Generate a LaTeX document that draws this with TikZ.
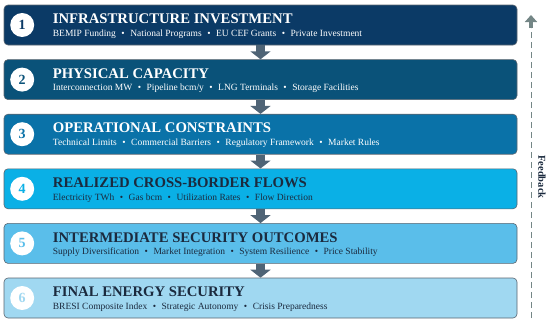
\documentclass[tikz,border=0pt]{standalone}
\usepackage{fontspec}
\setmainfont{Liberation Serif}
\usepackage{xcolor}
\usetikzlibrary{arrows.meta,positioning,calc}
\definecolor{tierA}{HTML}{0B3A66}
\definecolor{tierB}{HTML}{0A5279}
\definecolor{tierC}{HTML}{0A72A8}
\definecolor{tierD}{HTML}{0AB0E6}
\definecolor{tierE}{HTML}{5ABEEA}
\definecolor{tierF}{HTML}{A0D8F1}
\definecolor{ink}{HTML}{1B2A3E}
\definecolor{flowgray}{HTML}{4F6476}
\definecolor{fbgray}{HTML}{748686}
\definecolor{edge}{HTML}{5A6570}
\newcommand{\dotsep}{\hspace{5.5pt}\textbullet\hspace{5.5pt}}

\begin{document}
\begin{tikzpicture}[x=1pt,y=-1pt]
    \tikzset{
      tier/.style={rounded corners=4pt,draw=edge,line width=0.6pt,minimum width=513pt,minimum height=40pt,inner sep=0pt},
      badge/.style={circle,fill=white,minimum size=24pt,inner sep=0pt,font=\fontsize{14}{14}\selectfont\bfseries},
      head/.style={anchor=base west,inner sep=0pt,font=\fontsize{14.7}{15}\selectfont\bfseries},
      items/.style={anchor=base west,inner sep=0pt,font=\fontsize{9.5}{10}\selectfont},
      flow/.style={-{Triangle[width=20pt,length=8pt]},draw=flowgray,line width=9pt},
      fbline/.style={draw=fbgray,line width=0.8pt,dash pattern=on 6pt off 4pt},
      fbhead/.style={-{Triangle[width=12pt,length=7pt]},draw=fbgray,line width=4pt},
      fbtext/.style={rotate=-90,font=\fontsize{10.5}{11}\selectfont\bfseries,text=ink}
    }
    \useasboundingbox (0,0) rectangle (550,324);
    \node[tier,fill=tierA] (b1) at (260.5,25) {};
    \node[tier,fill=tierB] (b2) at (260.5,79.6) {};
    \node[tier,fill=tierC] (b3) at (260.5,134.2) {};
    \node[tier,fill=tierD] (b4) at (260.5,188.8) {};
    \node[tier,fill=tierE] (b5) at (260.5,243.4) {};
    \node[tier,fill=tierF] (b6) at (260.5,298) {};
    \node[badge,text=tierA] (n1) at ([xshift=18.5pt]b1.west) {1};
    \node[badge,text=tierB] (n2) at ([xshift=18.5pt]b2.west) {2};
    \node[badge,text=tierC] (n3) at ([xshift=18.5pt]b3.west) {3};
    \node[badge,text=tierD] (n4) at ([xshift=18.5pt]b4.west) {4};
    \node[badge,text=tierE] (n5) at ([xshift=18.5pt]b5.west) {5};
    \node[badge,text=tierF] (n6) at ([xshift=18.5pt]b6.west) {6};
    \node[head,text=white] (t1) at ([xshift=49pt,yshift=-19pt]b1.north west) {INFRASTRUCTURE INVESTMENT};
    \node[items,text=white] (s1) at ([xshift=49pt,yshift=-31.5pt]b1.north west) {BEMIP Funding\dotsep National Programs\dotsep EU CEF Grants\dotsep Private Investment};
    \node[head,text=white] (t2) at ([xshift=49pt,yshift=-19pt]b2.north west) {PHYSICAL CAPACITY};
    \node[items,text=white] (s2) at ([xshift=49pt,yshift=-31.5pt]b2.north west) {Interconnection MW\dotsep Pipeline bcm/y\dotsep LNG Terminals\dotsep Storage Facilities};
    \node[head,text=white] (t3) at ([xshift=49pt,yshift=-19pt]b3.north west) {OPERATIONAL CONSTRAINTS};
    \node[items,text=white] (s3) at ([xshift=49pt,yshift=-31.5pt]b3.north west) {Technical Limits\dotsep Commercial Barriers\dotsep Regulatory Framework\dotsep Market Rules};
    \node[head,text=ink] (t4) at ([xshift=49pt,yshift=-19pt]b4.north west) {REALIZED CROSS-BORDER FLOWS};
    \node[items,text=ink] (s4) at ([xshift=49pt,yshift=-31.5pt]b4.north west) {Electricity TWh\dotsep Gas bcm\dotsep Utilization Rates\dotsep Flow Direction};
    \node[head,text=ink] (t5) at ([xshift=49pt,yshift=-19pt]b5.north west) {INTERMEDIATE SECURITY OUTCOMES};
    \node[items,text=ink] (s5) at ([xshift=49pt,yshift=-31.5pt]b5.north west) {Supply Diversification\dotsep Market Integration\dotsep System Resilience\dotsep Price Stability};
    \node[head,text=ink] (t6) at ([xshift=49pt,yshift=-19pt]b6.north west) {FINAL ENERGY SECURITY};
    \node[items,text=ink] (s6) at ([xshift=49pt,yshift=-31.5pt]b6.north west) {BRESI Composite Index\dotsep Strategic Autonomy\dotsep Crisis Preparedness};
    \draw[flow] (b1.south) -- (b2.north);
    \draw[flow] (b2.south) -- (b3.north);
    \draw[flow] (b3.south) -- (b4.north);
    \draw[flow] (b4.south) -- (b5.north);
    \draw[flow] (b5.south) -- (b6.north);
    \coordinate (fbtop) at (531,15);
    \coordinate (fbmid) at (531,28);
    \coordinate (fbbot) at (531,318);
    \draw[fbline] (fbbot) -- (fbmid);
    \draw[fbhead] (fbmid) -- (fbtop);
    \node[fbtext] (fb) at (542,177) {Feedback};
  \end{tikzpicture}
\end{document}
